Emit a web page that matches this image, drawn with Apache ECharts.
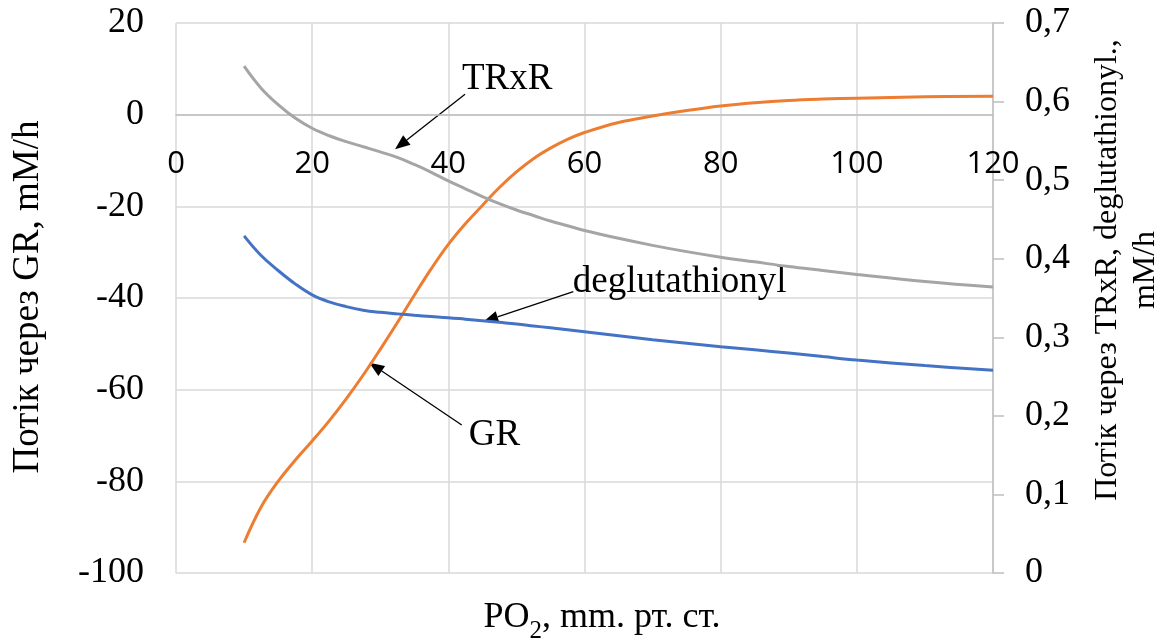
<!DOCTYPE html>
<html>
<head>
<meta charset="utf-8">
<script src="https://cdn.jsdelivr.net/npm/echarts@6/dist/echarts.min.js"></script>
<style>
  html, body { margin: 0; padding: 0; background: #ffffff; }
  #chart { width: 1174px; height: 643px; }
</style>
</head>
<body>
<div id="chart"></div>
<script>
// PO2, mm Hg
const po2 = [10, 12.5, 15, 17.5, 20, 22.5, 25, 27.5, 30, 32.5, 35, 37.5, 40, 42.5, 45, 47.5,
             50, 52.5, 55, 57.5, 60, 65, 70, 75, 80, 85, 90, 95, 100, 110, 120];

// Flux through GR, mM/h (left axis)
const grFlux = [-93.4, -85.6, -80.0, -75.4, -71.2, -66.8, -62.0, -56.8, -51.2, -45.4, -39.4, -33.6,
                -28.3, -23.8, -19.8, -15.9, -12.5, -9.6, -7.3, -5.4, -3.9, -1.7, -0.3, 0.9, 1.9,
                2.6, 3.1, 3.4, 3.6, 3.9, 4.0];

// Flux through TRxR, mM/h (right axis)
const trxrFlux = [0.645, 0.617, 0.596, 0.579, 0.566, 0.5565, 0.549, 0.5425, 0.536, 0.529, 0.520, 0.510,
                  0.499, 0.489, 0.479, 0.470, 0.462, 0.455, 0.448, 0.442, 0.436, 0.426, 0.417, 0.409,
                  0.402, 0.396, 0.390, 0.385, 0.380, 0.371, 0.364];

// Deglutathionylation flux, mM/h (right axis)
const deglutFlux = [0.429, 0.404, 0.385, 0.368, 0.354, 0.345, 0.339, 0.3345, 0.3318, 0.3298, 0.328, 0.3265,
                    0.325, 0.323, 0.321, 0.319, 0.317, 0.3145, 0.312, 0.3095, 0.307, 0.302, 0.297, 0.2925,
                    0.288, 0.284, 0.280, 0.2755, 0.271, 0.264, 0.258];

// Right axis tick labels (decimal comma)
const rightTickLabels = ['0', '0,1', '0,2', '0,3', '0,4', '0,5', '0,6', '0,7'];

const SERIF = '"Liberation Serif", "Times New Roman", serif';
const SANS = '"Open Sans", "Liberation Sans", sans-serif';

// Grid box and left-axis range; the PO2 axis runs along the zero line of the left axis
const GRID = { left: 176, right: 181, top: 23, bottom: 70 };
const LEFT_MIN = -100, LEFT_MAX = 20;
const CHART_H = 643;
const plotH = CHART_H - GRID.top - GRID.bottom;
const zeroOffset = -plotH * (0 - LEFT_MIN) / (LEFT_MAX - LEFT_MIN);

// Callout labels with arrows, in (PO2, left-axis) coordinates
const callouts = [
  { text: 'TRxR',           label: [42.0, 7.8],    tail: [42.45, 4.45],  tip: [32.17, -7.55] },
  { text: 'deglutathionyl', label: [58.28, -36.5], tail: [58.36, -38.62], tip: [45.14, -45.17] },
  { text: 'GR',             label: [43.0, -70.0],  tail: [41.97, -67.7],  tip: [28.39, -54.1] }
];

const pairs = (ys) => po2.map((x, i) => [x, ys[i]]);

const chart = echarts.init(document.getElementById('chart'), null, { renderer: 'canvas' });

const lineSeries = (name, ys, color, axis) => ({
  name, type: 'line', yAxisIndex: axis, data: pairs(ys),
  smooth: 0.4, showSymbol: false, symbol: 'none',
  lineStyle: { color, width: 3 }, itemStyle: { color }
});

chart.setOption({
  animation: false,
  backgroundColor: '#ffffff',
  grid: Object.assign({ show: false }, GRID),
  xAxis: {
    type: 'value', min: 0, max: 120, interval: 20,
    position: 'bottom', offset: zeroOffset,
    axisLine: { onZero: false, lineStyle: { color: '#bfbfbf', width: 1.5 } },
    axisTick: { show: false },
    axisLabel: { margin: 34, fontSize: 31, fontFamily: SANS, color: '#000' },
    splitLine: { show: true, lineStyle: { color: '#d9d9d9', width: 1.5 } }
  },
  yAxis: [
    {
      type: 'value', position: 'left', min: LEFT_MIN, max: LEFT_MAX, interval: 20,
      axisLine: { show: false, onZero: false },
      axisTick: { show: false },
      axisLabel: { margin: 32, fontSize: 36, fontFamily: SERIF, color: '#000' },
      splitLine: { show: true, lineStyle: { color: '#d9d9d9', width: 1.5 } }
    },
    {
      type: 'value', position: 'right', min: 0, max: 0.7, interval: 0.1,
      axisLine: { show: true, onZero: false, lineStyle: { color: '#bfbfbf', width: 1.5 } },
      axisTick: { show: true, inside: false, length: 11, lineStyle: { color: '#bfbfbf', width: 1.5 } },
      axisLabel: {
        margin: 32, fontSize: 36, fontFamily: SERIF, color: '#000',
        formatter: (v) => rightTickLabels[Math.round(v * 10)]
      },
      splitLine: { show: false }
    }
  ],
  series: [
    lineSeries('GR', grFlux, '#ED7D31', 0),
    lineSeries('TRxR', trxrFlux, '#A5A5A5', 1),
    lineSeries('deglutathionyl', deglutFlux, '#4472C4', 1)
  ]
});

// Callouts, axis titles
const toPx = (p) => chart.convertToPixel({ xAxisIndex: 0, yAxisIndex: 0 }, p);
const graphics = [];

callouts.forEach((c) => {
  const t = toPx(c.tail), p = toPx(c.tip), l = toPx(c.label);
  const dx = p[0] - t[0], dy = p[1] - t[1];
  const len = Math.hypot(dx, dy);
  const ux = dx / len, uy = dy / len;
  const head = 15, half = 6;
  const bx = p[0] - ux * head, by = p[1] - uy * head;
  graphics.push({
    type: 'line', silent: true,
    shape: { x1: t[0], y1: t[1], x2: bx, y2: by },
    style: { stroke: '#000', lineWidth: 1.3 }
  });
  graphics.push({
    type: 'polygon', silent: true,
    shape: { points: [[p[0], p[1]], [bx - uy * half, by + ux * half], [bx + uy * half, by - ux * half]] },
    style: { fill: '#000' }
  });
  graphics.push({
    type: 'text', silent: true, x: l[0], y: l[1],
    style: { text: c.text, fontSize: 37, fontFamily: SERIF, fill: '#000', align: 'left', verticalAlign: 'middle' }
  });
});

graphics.push({
  type: 'text', silent: true, x: 28, y: 297, rotation: Math.PI / 2,
  style: { text: 'Потік через GR, mM/h', fontSize: 37, fontFamily: SERIF, fill: '#000',
           align: 'center', verticalAlign: 'middle' }
});

graphics.push({
  type: 'text', silent: true, x: 1127, y: 270, rotation: Math.PI / 2,
  style: { text: 'Потік через TRxR, deglutathionyl.,\nmM/h', fontSize: 32, lineHeight: 38,
           fontFamily: SERIF, fill: '#000', align: 'center', verticalAlign: 'middle' }
});

graphics.push({
  type: 'text', silent: true, x: 602, y: 618,
  style: {
    text: '{a|PO}{s|2}{a|, mm. рт. ст.}',
    align: 'center', verticalAlign: 'middle',
    rich: {
      a: { fontSize: 36, fontFamily: SERIF, color: '#000' },
      s: { fontSize: 25, fontFamily: SERIF, color: '#000', padding: [26, 0, 0, 0] }
    }
  }
});

chart.setOption({ graphic: graphics });
</script>
</body>
</html>
